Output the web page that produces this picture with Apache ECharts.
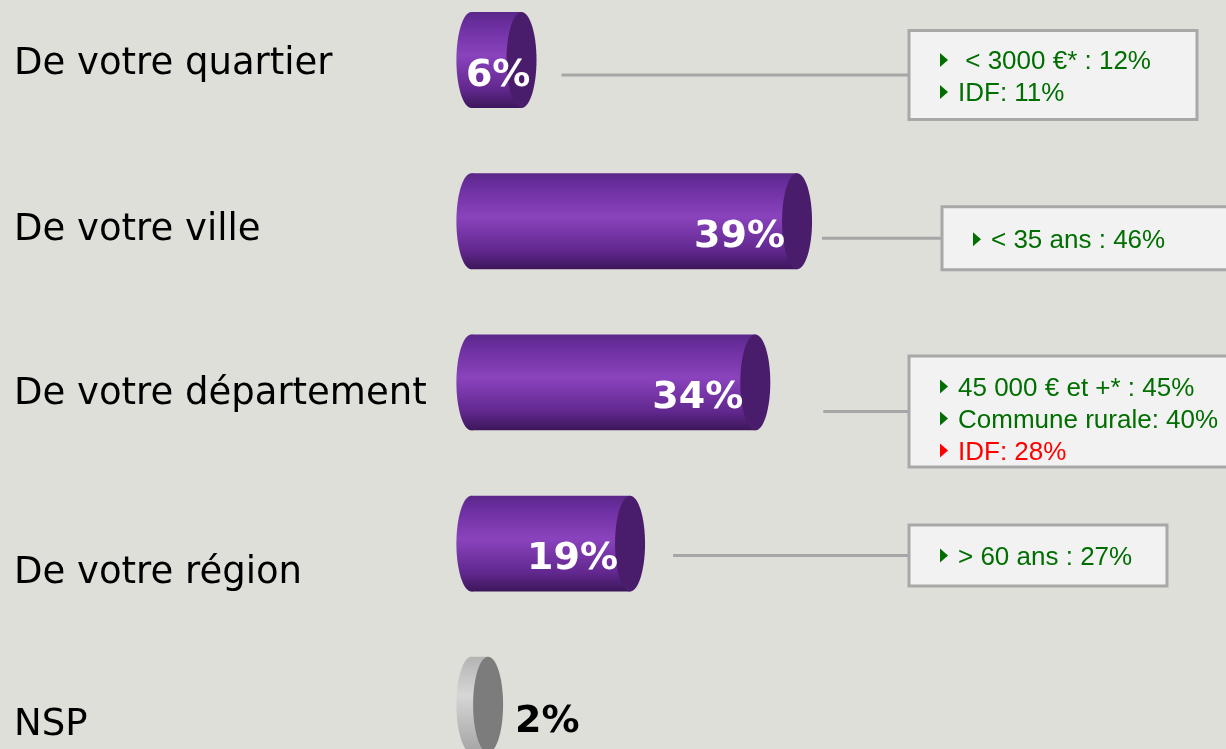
<!DOCTYPE html>
<html><head><meta charset="utf-8">
<script src="https://cdn.jsdelivr.net/npm/echarts@6/dist/echarts.min.js"></script>
<style>html,body{margin:0;padding:0;background:#dfdfd9;}#c{width:1226px;height:749px;}</style>
</head><body><div id="c"></div>
<script>
// ---- data ----
const categories = ['De votre quartier', 'De votre ville', 'De votre département', 'De votre région', 'NSP'];
const values = [6, 39, 34, 19, 2];
const noteLabels = [
  [' < 3000 €* : ', 'IDF: '],
  ['< 35 ans : '],
  ['45 000 € et +* : ', 'Commune rurale: ', 'IDF: '],
  ['> 60 ans : ']
];
const noteValues = [[12, 11], [46], [45, 40, 28], [27]];

// ---- layout / style ----
const labelDy = [4, 9, 12, 30, 21];
const boxLayout = [
  { x: 909, w: 288, h: 89, dy: 15, textDy: 1, gap: 25 },
  { x: 942, w: 300, h: 63, dy: 17, textDy: 1, gap: 10 },
  { x: 909, w: 330, h: 111, dy: 29, textDy: 7, gap: 53 },
  { x: 909, w: 258, h: 61, dy: 12, textDy: 0, gap: 28 }
];
const CAP_RX = 15;
const purpleBody = () => new echarts.graphic.LinearGradient(0, 0, 0, 1, [
  { offset: 0, color: '#5a2788' }, { offset: 0.12, color: '#6a2e9e' },
  { offset: 0.45, color: '#8a43bd' }, { offset: 0.8, color: '#62288f' },
  { offset: 1, color: '#3c165a' }]);
const grayBody = () => new echarts.graphic.LinearGradient(0, 0, 0, 1, [
  { offset: 0, color: '#b4b4b4' }, { offset: 0.4, color: '#d6d6d6' },
  { offset: 1, color: '#a4a4a4' }]);

function renderBar(params, api) {
  const v = api.value(0), i = api.value(1);
  const p0 = api.coord([0, i]);
  const p1 = api.coord([v, i]);
  const h = api.size([0, 1])[1] * 0.595;
  const cy = p0[1];
  const nsp = i === categories.length - 1;
  const body = nsp ? grayBody : purpleBody;
  const capEnd = p1[0] + CAP_RX;
  const children = [
    { type: 'ellipse', shape: { cx: p0[0], cy: cy, rx: CAP_RX, ry: h / 2 }, style: { fill: body() } },
    { type: 'rect', shape: { x: p0[0], y: cy - h / 2, width: p1[0] - p0[0], height: h }, style: { fill: body() } },
    { type: 'ellipse', shape: { cx: p1[0], cy: cy, rx: CAP_RX, ry: h / 2 }, style: { fill: nsp ? '#7c7c7c' : '#4a1d6c' } },
    { type: 'text', style: { text: categories[i], x: 14, y: cy + labelDy[i], fill: '#000',
        font: '37px "DejaVu Sans"', align: 'left', verticalAlign: 'middle' } }
  ];
  if (nsp) {
    children.push({ type: 'text', style: { text: v + '%', x: capEnd + 12, y: cy + 17, fill: '#000',
      font: 'bold 38px "DejaVu Sans"', align: 'left', verticalAlign: 'middle' } });
  } else {
    const rx = Math.max(p1[0] - 12, p0[0] - CAP_RX + 74);
    children.push({ type: 'text', style: { text: v + '%', x: rx, y: cy + 16, fill: '#fff',
      font: 'bold 38px "DejaVu Sans"', align: 'right', verticalAlign: 'middle' } });
  }
  return { type: 'group', children: children };
}

function renderNote(params, api) {
  const v = api.value(0), i = api.value(1);
  const lay = boxLayout[i];
  const pe = api.coord([v, i]);
  const cy = pe[1] + lay.dy;
  const children = [
    { type: 'line', shape: { x1: pe[0] + CAP_RX + lay.gap, y1: cy, x2: lay.x, y2: cy },
      style: { stroke: '#a6a6a6', lineWidth: 3 } },
    { type: 'rect', shape: { x: lay.x, y: cy - lay.h / 2, width: lay.w, height: lay.h },
      style: { fill: '#f2f2f2', stroke: '#a8a8a8', lineWidth: 3 } }
  ];
  const labels = noteLabels[i], vals = noteValues[i];
  const n = labels.length;
  labels.forEach(function (lab, j) {
    const ty = cy + lay.textDy + (j - (n - 1) / 2) * 32;
    const color = vals[j] < v ? '#ff0000' : '#006e00';
    const bx = lay.x + 31;
    children.push({ type: 'polygon', shape: { points: [[bx, ty - 7], [bx + 8, ty], [bx, ty + 7]] }, style: { fill: color } });
    children.push({ type: 'text', style: { text: lab + vals[j] + '%', x: bx + 18, y: ty + 2, fill: color,
      font: '26px "Liberation Sans"', align: 'left', verticalAlign: 'middle' } });
  });
  return { type: 'group', children: children };
}

const chart = echarts.init(document.getElementById('c'), null, { renderer: 'canvas' });
chart.setOption({
  backgroundColor: '#dfdfd9',
  animation: false,
  grid: { left: 471.4, top: -20.6, width: 501, height: 806, outerBoundsMode: 'none', containLabel: false },
  xAxis: { type: 'value', min: 0, max: 60, show: false },
  yAxis: { type: 'category', data: categories, inverse: true, show: false },
  series: [
    { type: 'custom', clip: false, renderItem: renderBar,
      data: values.map(function (v, i) { return [v, i]; }) },
    { type: 'custom', clip: false, renderItem: renderNote,
      data: noteLabels.map(function (l, i) { return [values[i], i]; }) }
  ]
});
</script></body></html>
